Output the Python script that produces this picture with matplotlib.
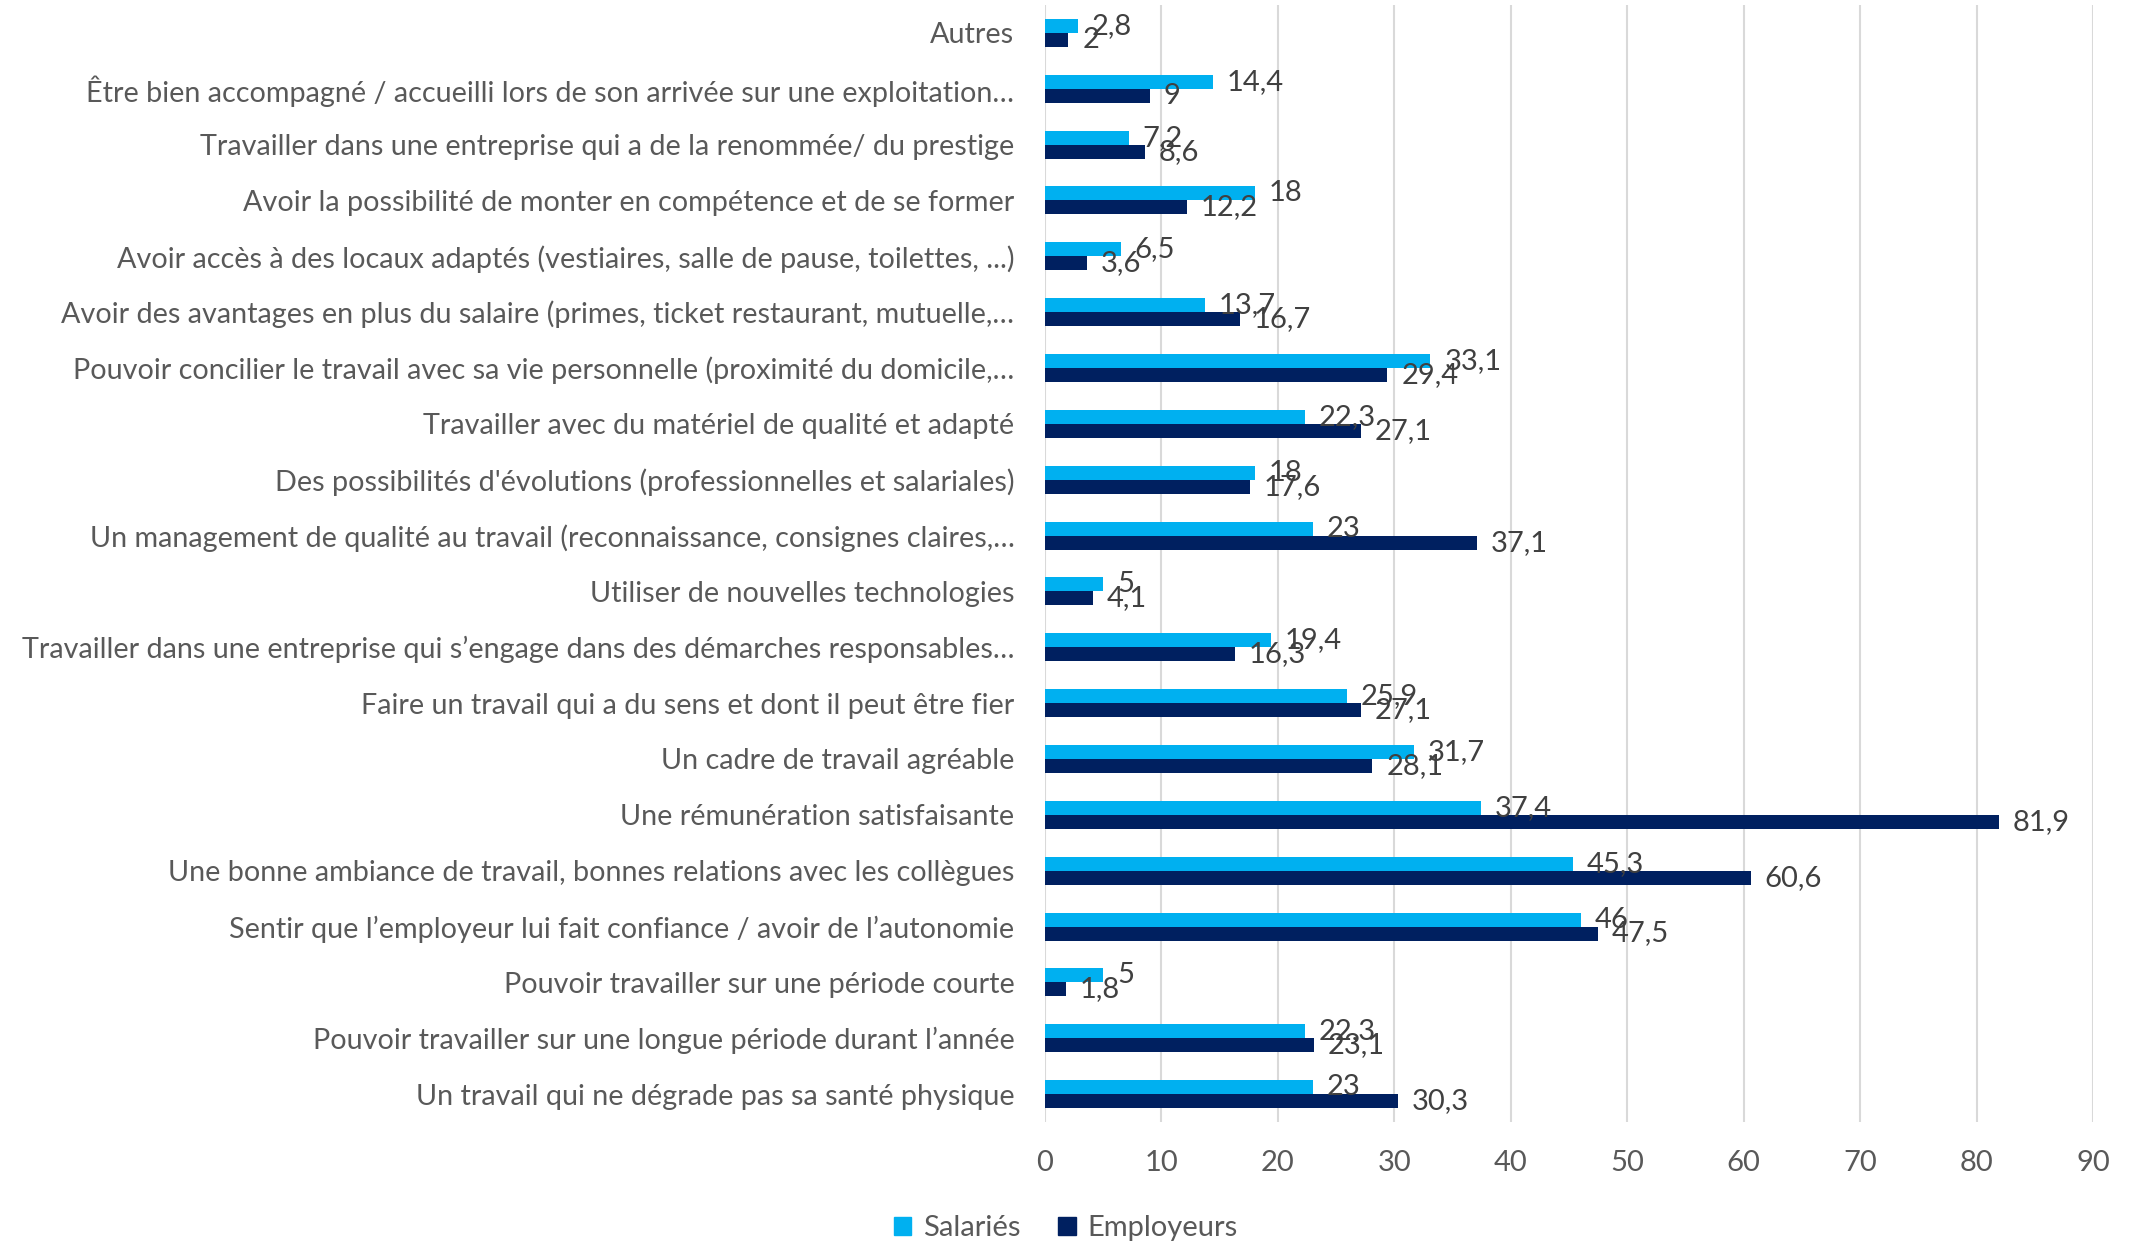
import numpy as np
import matplotlib
matplotlib.use("Agg")
import matplotlib.pyplot as plt
from matplotlib.patches import Patch

plt.rcParams['font.family'] = ['Lato', 'DejaVu Sans']

# categories listed bottom -> top
categories = [
    "Un travail qui ne dégrade pas sa santé physique",
    "Pouvoir travailler sur une longue période durant l’année",
    "Pouvoir travailler sur une période courte",
    "Sentir que l’employeur lui fait confiance / avoir de l’autonomie",
    "Une bonne ambiance de travail, bonnes relations avec les collègues",
    "Une rémunération satisfaisante",
    "Un cadre de travail agréable",
    "Faire un travail qui a du sens et dont il peut être fier",
    "Travailler dans une entreprise qui s’engage dans des démarches responsables…",
    "Utiliser de nouvelles technologies",
    "Un management de qualité au travail (reconnaissance, consignes claires,…",
    "Des possibilités d'évolutions (professionnelles et salariales)",
    "Travailler avec du matériel de qualité et adapté",
    "Pouvoir concilier le travail avec sa vie personnelle (proximité du domicile,…",
    "Avoir des avantages en plus du salaire (primes, ticket restaurant, mutuelle,…",
    "Avoir accès à des locaux adaptés (vestiaires, salle de pause, toilettes, ...)",
    "Avoir la possibilité de monter en compétence et de se former",
    "Travailler dans une entreprise qui a de la renommée/ du prestige",
    "Être bien accompagné / accueilli lors de son arrivée sur une exploitation…",
    "Autres",
]
salaries = [23, 22.3, 5, 46, 45.3, 37.4, 31.7, 25.9, 19.4, 5, 23, 18, 22.3, 33.1, 13.7, 6.5, 18, 7.2, 14.4, 2.8]
employeurs = [30.3, 23.1, 1.8, 47.5, 60.6, 81.9, 28.1, 27.1, 16.3, 4.1, 37.1, 17.6, 27.1, 29.4, 16.7, 3.6, 12.2, 8.6, 9, 2]
xticks = list(range(0, 100, 10))

c_sal = "#00B0F0"
c_emp = "#002060"


def fmt(v):
    s = f"{v:g}"
    return s.replace(".", ",")


fig = plt.figure(figsize=(21.31, 12.42), dpi=100)
ax = fig.add_axes([0.4904, 0.0966, 0.4918, 0.8994])

y = np.arange(len(categories))
h = 0.25
b1 = ax.barh(y + h / 2, salaries, height=h, color=c_sal, zorder=3)
b2 = ax.barh(y - h / 2, employeurs, height=h, color=c_emp, zorder=3)

ax.bar_label(b1, labels=[fmt(v) for v in salaries], padding=10,
             fontsize=21, color="#404040")
ax.bar_label(b2, labels=[fmt(v) for v in employeurs], padding=10,
             fontsize=21, color="#404040")

ax.set_ylim(-0.5, len(categories) - 0.5)
ax.set_xlim(0, 90)
ax.set_yticks(y)
ax.set_yticklabels(categories, fontsize=20.7, color="#595959")
ax.set_xticks(xticks)
ax.set_xticklabels([str(t) for t in xticks], fontsize=21, color="#595959")
ax.tick_params(axis="y", length=0, pad=22)
ax.tick_params(axis="x", length=0, pad=20)
ax.grid(axis="x", color="#D9D9D9", linewidth=1.5, zorder=0)
for s in ["top", "right", "bottom", "left"]:
    ax.spines[s].set_visible(False)

handles = [Patch(color=c_sal, label="Salariés"), Patch(color=c_emp, label="Employeurs")]
fig.legend(handles=handles, loc="center", bbox_to_anchor=(0.5, 0.011), ncol=2,
           frameon=False, fontsize=21, labelcolor="#595959",
           handlelength=0.6, handleheight=0.6, handletextpad=0.4, columnspacing=1.3)

fig.savefig("out.png", dpi=100)
